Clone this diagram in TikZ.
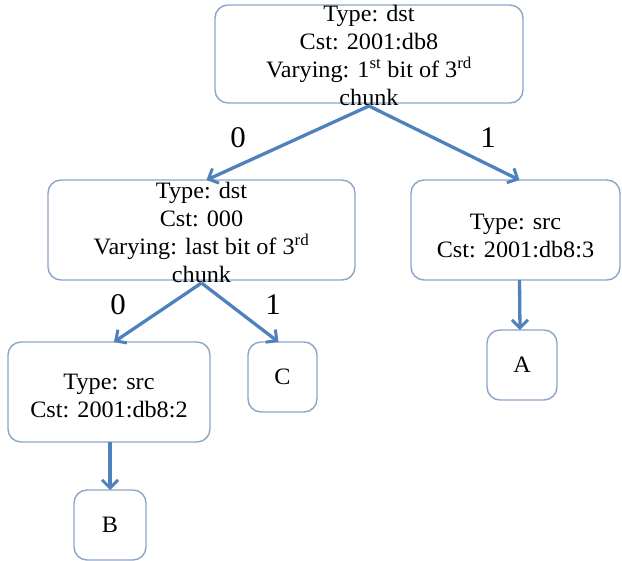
\documentclass[tikz,border=0pt]{standalone}
\usepackage{fontspec}
\setmainfont{Liberation Serif}[FakeStretch=1.03]
\usetikzlibrary{arrows.meta}
\definecolor{arrowblue}{RGB}{79,129,189}
\definecolor{boxline}{RGB}{140,165,200}
\begin{document}
\begin{tikzpicture}[x=1pt,y=-1pt,
  box/.style={draw=boxline, line width=1.4pt, rounded corners=13pt, inner sep=0pt, outer sep=0pt,
              font=\fontsize{23.5}{28}\selectfont},
  boxtext/.style={inner sep=0pt, outer sep=0pt, align=center, font=\fontsize{23.5}{28}\selectfont},
  edgelabel/.style={inner sep=0pt, font=\fontsize{30}{32}\selectfont},
  conn/.style={draw=arrowblue, line width=3.3pt, -{Straight Barb[length=8pt,width=16pt,line width=3pt]}}]
\useasboundingbox (0,0) rectangle (622,561);

% boxes
\node[box, minimum width=308pt, minimum height=98pt] (r) at (369,54) {};
\node[box, minimum width=307pt, minimum height=100pt] (l) at (201.5,230) {};
\node[box, minimum width=209pt, minimum height=100pt] (s3) at (515.5,230) {};
\node[box, minimum width=202pt, minimum height=100pt] (s2) at (109,392) {};
\node[box, minimum width=69pt, minimum height=70pt] (C) at (282.5,377) {C};
\node[box, minimum width=70pt, minimum height=70pt] (A) at (522,365) {A};
\node[box, minimum width=72pt, minimum height=70pt] (B) at (110,525) {B};

% texts
\node[boxtext, anchor=south] (rt) at (369,106) {Type: dst\\Cst: 2001:db8\\Varying: 1\textsuperscript{st} bit of 3\textsuperscript{rd}\\chunk};
\node[boxtext, anchor=south] (lt) at (201.5,283) {Type: dst\\Cst: 000\\Varying: last bit of 3\textsuperscript{rd}\\chunk};
\node[boxtext, anchor=south] (s3t) at (515.5,258) {Type: src\\Cst: 2001:db8:3};
\node[boxtext, anchor=south] (s2t) at (109,418) {Type: src\\Cst: 2001:db8:2};

% edge labels
\node[edgelabel] (z1) at (238,138) {0};
\node[edgelabel] (o1) at (488,138) {1};
\node[edgelabel] (z2) at (118,305) {0};
\node[edgelabel] (o2) at (273,305) {1};

% connectors
\draw[conn] (rt.south) -- ([xshift=5pt]l.north);
\draw[conn] (rt.south) -- ([xshift=4pt]s3.north);
\draw[conn] (lt.south) -- ([xshift=5pt]s2.north);
\draw[conn] (lt.south) -- ([xshift=-4pt]C.north);
\draw[conn] ([xshift=4pt]s3.south) -- ([xshift=-2pt]A.north);
\draw[conn] ([xshift=1pt]s2.south) -- (B.north);
\end{tikzpicture}
\end{document}
